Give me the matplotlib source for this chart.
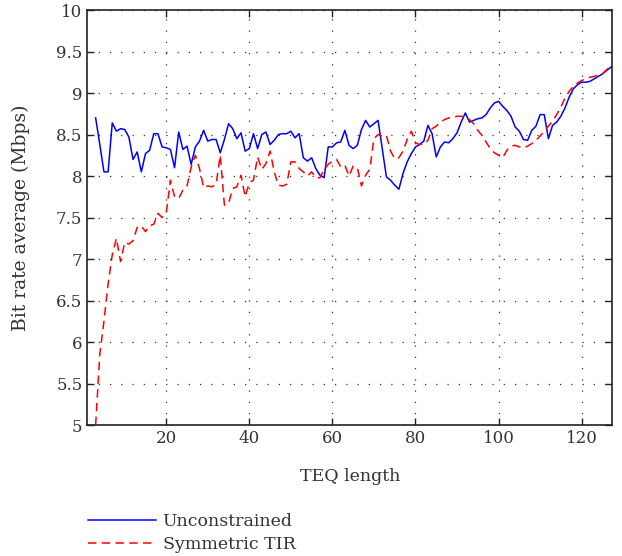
import numpy as np
import matplotlib
matplotlib.use("Agg")
from matplotlib import pyplot as plt

# TEQ length axis
teq_len = np.arange(3, 129)

# Unconstrained
unconstrained = [
    8.70, 8.38, 8.05, 8.05, 8.64, 8.54, 8.57, 8.56, 8.47, 8.20,
    8.29, 8.05, 8.27, 8.31, 8.51, 8.51, 8.35, 8.34, 8.32, 8.10,
    8.53, 8.32, 8.36, 8.14, 8.35, 8.42, 8.55, 8.42, 8.44, 8.44,
    8.28, 8.44, 8.63, 8.57, 8.45, 8.52, 8.30, 8.33, 8.51, 8.33,
    8.50, 8.53, 8.38, 8.43, 8.50, 8.51, 8.51, 8.54, 8.46, 8.51,
    8.22, 8.18, 8.22, 8.09, 8.01, 7.98, 8.35, 8.35, 8.40, 8.41,
    8.55, 8.37, 8.33, 8.37, 8.56, 8.67, 8.59, 8.63, 8.67, 8.33,
    7.99, 7.95, 7.89, 7.84, 8.03, 8.17, 8.27, 8.35, 8.38, 8.42,
    8.61, 8.51, 8.23, 8.35, 8.41, 8.40, 8.45, 8.52, 8.65, 8.76,
    8.65, 8.67, 8.69, 8.70, 8.74, 8.82, 8.88, 8.90, 8.84, 8.79,
    8.72, 8.59, 8.54, 8.44, 8.43, 8.55, 8.60, 8.74, 8.74, 8.45,
    8.61, 8.65, 8.72, 8.82, 8.95, 9.05, 9.10, 9.13, 9.13, 9.14,
    9.17, 9.20, 9.23, 9.27, 9.31, 9.33,
]

# Symmetric TIR
symmetric = [
    5.00, 5.85, 6.25, 6.70, 7.05, 7.25, 6.97, 7.20, 7.18, 7.22,
    7.38, 7.40, 7.33, 7.40, 7.42, 7.55, 7.50, 7.55, 7.95, 7.75,
    7.73, 7.83, 7.88, 8.11, 8.25, 8.09, 7.86, 7.88, 7.87, 7.90,
    8.25, 7.65, 7.67, 7.85, 7.87, 8.01, 7.75, 7.92, 7.95, 8.23,
    8.08, 8.15, 8.30, 8.05, 7.89, 7.88, 7.90, 8.17, 8.17, 8.09,
    8.05, 8.00, 8.05, 7.98, 7.98, 8.08, 8.14, 8.18, 8.20, 8.11,
    8.13, 8.00, 8.12, 8.10, 7.88, 8.01, 8.08, 8.45, 8.50, 8.48,
    8.49, 8.30, 8.21, 8.22, 8.30, 8.44, 8.54, 8.40, 8.38, 8.38,
    8.43, 8.57, 8.60, 8.65, 8.68, 8.70, 8.70, 8.72, 8.72, 8.71,
    8.68, 8.63, 8.55, 8.49, 8.41, 8.33, 8.28, 8.25, 8.22, 8.31,
    8.36, 8.37, 8.35, 8.34, 8.36, 8.39, 8.43, 8.48, 8.54, 8.60,
    8.66, 8.74, 8.83, 8.94, 9.02, 9.08, 9.12, 9.15, 9.17, 9.19,
    9.20, 9.22, 9.23, 9.28, 9.32, 9.36,
]

x_ticks = [20, 40, 60, 80, 100, 120]
y_ticks = [5, 5.5, 6, 6.5, 7, 7.5, 8, 8.5, 9, 9.5, 10]
y_labels = ["5", "5.5", "6", "6.5", "7", "7.5", "8", "8.5", "9", "9.5", "10"]

plt.rcParams['font.family'] = ['DejaVu Serif']
plt.rcParams['font.size'] = 12

fig = plt.figure(figsize=(6.22, 5.56), dpi=100)
ax = fig.add_axes([0.1404, 0.2356, 0.8441, 0.7464])

l1, = ax.plot(teq_len, unconstrained, color='#0000ff', lw=1.1, label='Unconstrained')
l2, = ax.plot(teq_len, symmetric, color='#ff0000', lw=1.1, dashes=(5.5, 3.5), label='Symmetric TIR')

ax.set_xlim(1, 127.4)
ax.set_ylim(5, 10)
ax.set_xticks(x_ticks)
ax.set_yticks(y_ticks)
ax.set_yticklabels(y_labels)
ax.tick_params(direction='in', length=5, width=1, top=True, right=True, colors='#222222',
               labelcolor='#333333', labelsize=12)
ax.grid(True, color='#333333', linestyle=(0, (1, 8)), linewidth=0.9)
for s in ax.spines.values():
    s.set_linewidth(1.2)
    s.set_color('#222222')

ax.set_xlabel('TEQ length', color='#333333', labelpad=15, fontsize=12.5)
ax.set_ylabel('Bit rate average (Mbps)', color='#333333', labelpad=19, fontsize=13.5)

fig.legend(handles=[l1, l2], loc='upper left', bbox_to_anchor=(0.1415, 0.078),
           frameon=False, borderpad=0, borderaxespad=0, handlelength=3.9, fontsize=12.5,
           handletextpad=0.4, labelspacing=0.38, labelcolor='#333333')

fig.savefig('out.png', dpi=100)
